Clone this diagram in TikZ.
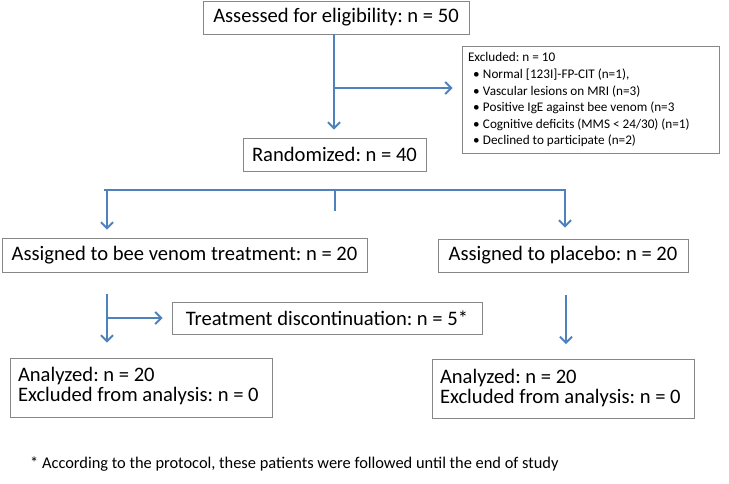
\documentclass[tikz,border=0pt]{standalone}
\usepackage{fontspec}
\setmainfont{Carlito}
\usepackage{xcolor}
\usepackage{tikz}
\usetikzlibrary{arrows.meta, calc}

\definecolor{flowblue}{RGB}{79,129,189}
\definecolor{boxgray}{RGB}{135,135,135}

\tikzset{
  box/.style={draw=boxgray, line width=0.8pt, inner xsep=8pt, inner ysep=0pt, font=\fontsize{20.6}{20}\selectfont\frenchspacing},
  flow/.style={draw=flowblue, line width=2.6pt},
  arr/.style={flow, -{Straight Barb[length=6pt, width=12pt, line width=2pt]}}
}

\newcommand{\bul}{\makebox[15pt][l]{\hspace{5pt}\textbullet}}

\begin{document}
\begin{tikzpicture}[x=1pt, y=-1pt]
    \useasboundingbox (0,0) rectangle (729,483);

    % Screening
    \node[box, minimum width=266pt, minimum height=33pt] (elig) at (336,17.5) {Assessed for eligibility: n = 50};
    \node[box, inner xsep=6pt, inner ysep=4pt, minimum width=257pt, minimum height=106pt,
          font=\fontsize{13.2}{16.6}\selectfont\frenchspacing] (excl) at (590.5,100)
        {\raisebox{1.5pt}{\begin{tabular}{@{}p{245pt}@{}}
         Excluded: n = 10\\
         \bul Normal [123I]-FP-CIT (n=1),\\
         \bul Vascular lesions on MRI (n=3)\\
         \bul Positive IgE against bee venom (n=3\\
         \bul Cognitive deficits (MMS < 24/30) (n=1)\\
         \bul Declined to participate (n=2)
         \end{tabular}}};
    \node[box, minimum width=183pt, minimum height=33pt] (rand) at (334.5,154.5) {Randomized: n = 40};

    % Arms
    \node[box, minimum width=365pt, minimum height=34pt] (bee) at (184.5,255) {Assigned to bee venom treatment: n = 20};
    \node[box, minimum width=250pt, minimum height=33pt] (plac) at (563,255.5) {Assigned to placebo: n = 20};
    \node[box, minimum width=310pt, minimum height=32pt] (disc) at (327,318) {Treatment discontinuation: n = 5*};

    % Analysis
    \node[box, minimum width=262pt, minimum height=59pt] (anL) at (141,387.5)
        {\begin{tabular}{@{}p{246pt}@{}}Analyzed: n = 20\\Excluded from analysis: n = 0\end{tabular}};
    \node[box, minimum width=262pt, minimum height=59pt] (anR) at (563,389)
        {\begin{tabular}{@{}p{246pt}@{}}Analyzed: n = 20\\Excluded from analysis: n = 0\end{tabular}};

    % Footnote
    \node[anchor=west, inner sep=0pt, font=\fontsize{16.4}{18}\selectfont\frenchspacing] (note) at (30,464)
        {* According to the protocol, these patients were followed until the end of study};

    % Connectors
    \coordinate (split1) at (334,88);
    \draw[arr, shorten >=8pt] (elig.south -| split1) -- (rand.north -| split1);
    \draw[arr, shorten >=9pt] (split1) -- (split1 -| excl.west);

    \coordinate (busL) at (104,190);
    \coordinate (busM) at (335,190);
    \coordinate (busR) at (566,190);
    \coordinate (tick) at (335,211);
    \draw[flow] (busL) -- (busR);
    \draw[flow] (busM) -- (tick);
    \draw[arr, shorten >=8pt] ([xshift=3pt]busL) -- ([xshift=3pt]busL |- bee.north);
    \draw[arr, shorten >=11pt] ([xshift=-1pt]busR) -- ([xshift=-1pt]busR |- plac.north);

    \coordinate (split2) at (107,318);
    \draw[arr, shorten <=22pt, shorten >=15pt] (split2 |- bee.south) -- (split2 |- anL.north);
    \draw[arr, shorten >=9pt] (split2) -- (disc.west);
    \draw[arr, shorten <=23pt, shorten >=15pt] (busR |- plac.south) -- (busR |- anR.north);
\end{tikzpicture}
\end{document}
